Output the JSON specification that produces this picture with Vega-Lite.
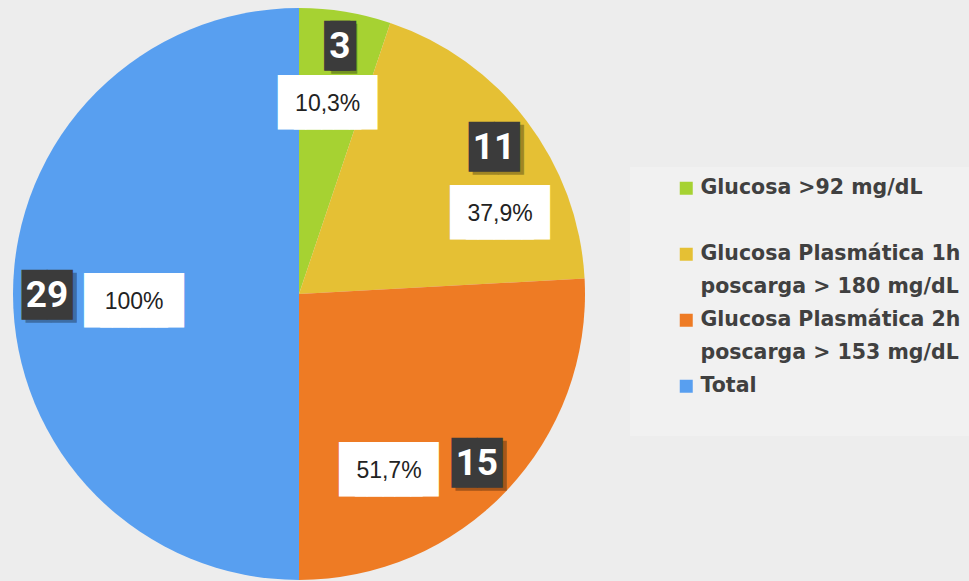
{
  "$schema": "https://vega.github.io/schema/vega-lite/v6.json",
  "width": 598,
  "height": 572,
  "autosize": {"type": "none"},
  "padding": {"left": 0, "top": 8, "right": 371, "bottom": 1},
  "background": "#ededed",
  "view": {"stroke": null},
  "config": {"style": {"guide-label": {"lineHeight": 33}}},
  "data": {
    "values": [
      {"categoria": "Glucosa >92 mg/dL", "n": 3, "pct": "10,3%", "orden": 1},
      {"categoria": "Glucosa Plasmática 1h poscarga > 180 mg/dL", "n": 11, "pct": "37,9%", "orden": 2},
      {"categoria": "Glucosa Plasmática 2h poscarga > 153 mg/dL", "n": 15, "pct": "51,7%", "orden": 3},
      {"categoria": "Total", "n": 29, "pct": "100%", "orden": 4}
    ]
  },
  "encoding": {
    "theta": {"field": "n", "type": "quantitative", "stack": true},
    "order": {"field": "orden", "type": "quantitative"}
  },
  "layer": [
    {
      "mark": {"type": "arc", "outerRadius": 286},
      "encoding": {
        "color": {
          "field": "categoria",
          "type": "nominal",
          "scale": {
            "domain": ["Glucosa >92 mg/dL", "Glucosa Plasmática 1h poscarga > 180 mg/dL", "Glucosa Plasmática 2h poscarga > 153 mg/dL", "Total"],
            "range": ["#a6d232", "#e5c034", "#ee7b24", "#589ff0"]
          },
          "legend": {
            "title": " ",
            "titleOrient": "bottom",
            "titleFontSize": 20,
            "titlePadding": 8,
            "orient": "none",
            "legendX": 630,
            "legendY": 159,
            "padding": 11,
            "fillColor": "#f1f1f1",
            "symbolType": "square",
            "symbolSize": 169,
            "symbolStrokeWidth": 0,
            "symbolOffset": 35,
            "labelOffset": 4,
            "labelFont": "DejaVu Sans",
            "labelFontWeight": "bold",
            "labelFontSize": 20.5,
            "labelColor": "#404040",
            "labelLimit": 400,
            "rowPadding": 12,
            "labelExpr": "datum.label == 'Glucosa >92 mg/dL' ? [datum.label, ''] : split(replace(datum.label, ' poscarga', '|poscarga'), '|')"
          }
        }
      }
    },
    {
      "mark": {"type": "text", "radius": {"expr": "datum.orden == 1 || datum.orden == 4 ? 252 : 245"}, "font": "DejaVu Sans Mono", "fontSize": 42, "align": "center", "baseline": "middle", "dx": 4, "dy": 5, "fill": "#000000", "opacity": 0.3},
      "encoding": {"text": {"condition": {"test": "datum.orden != 1", "value": "██"}, "value": "█"}}
    },
    {
      "mark": {"type": "text", "radius": {"expr": "datum.orden == 1 || datum.orden == 4 ? 252 : 245"}, "font": "DejaVu Sans Mono", "fontSize": 42, "align": "center", "baseline": "middle", "dy": 2, "fill": "#3b3b3b"},
      "encoding": {"text": {"condition": {"test": "datum.orden != 1", "value": "██"}, "value": ""}}
    },
    {
      "mark": {"type": "text", "radius": {"expr": "datum.orden == 1 || datum.orden == 4 ? 252 : 245"}, "font": "DejaVu Sans Mono", "fontSize": 42, "align": "center", "baseline": "middle", "dx": -3, "dy": 2, "fill": "#3b3b3b"},
      "encoding": {"text": {"condition": {"test": "datum.orden == 1", "value": "█"}, "value": ""}}
    },
    {
      "mark": {"type": "text", "radius": {"expr": "datum.orden == 1 || datum.orden == 4 ? 252 : 245"}, "font": "DejaVu Sans Mono", "fontSize": 42, "align": "center", "baseline": "middle", "dx": 3, "dy": 2, "fill": "#3b3b3b"},
      "encoding": {"text": {"condition": {"test": "datum.orden == 1", "value": "█"}, "value": ""}}
    },
    {
      "mark": {"type": "text", "radius": {"expr": "datum.orden == 1 || datum.orden == 4 ? 252 : 245"}, "font": "Roboto", "fontWeight": "bold", "fontSize": 37, "align": "center", "baseline": "middle", "dy": 2, "fill": "#ffffff"},
      "encoding": {"text": {"field": "n", "type": "nominal"}}
    },
    {
      "mark": {"type": "text", "radius": {"expr": "datum.orden == 1 ? 194 : datum.orden == 2 ? 217 : datum.orden == 3 ? 197 : 165"}, "thetaOffset": {"expr": "datum.orden == 1 ? -0.014 : datum.orden == 2 ? 0.264 : datum.orden == 3 ? 0.338 : -0.036"}, "font": "DejaVu Sans Mono", "fontSize": 46, "align": "center", "baseline": "middle", "dx": -8, "dy": 2, "fill": "#ffffff"},
      "encoding": {"text": {"value": "███"}}
    },
    {
      "mark": {"type": "text", "radius": {"expr": "datum.orden == 1 ? 194 : datum.orden == 2 ? 217 : datum.orden == 3 ? 197 : 165"}, "thetaOffset": {"expr": "datum.orden == 1 ? -0.014 : datum.orden == 2 ? 0.264 : datum.orden == 3 ? 0.338 : -0.036"}, "font": "DejaVu Sans Mono", "fontSize": 46, "align": "center", "baseline": "middle", "dx": 8, "dy": 2, "fill": "#ffffff"},
      "encoding": {"text": {"value": "███"}}
    },
    {
      "mark": {"type": "text", "radius": {"expr": "datum.orden == 1 ? 194 : datum.orden == 2 ? 217 : datum.orden == 3 ? 197 : 165"}, "thetaOffset": {"expr": "datum.orden == 1 ? -0.014 : datum.orden == 2 ? 0.264 : datum.orden == 3 ? 0.338 : -0.036"}, "font": "Liberation Sans", "fontSize": 23, "align": "center", "baseline": "middle", "dy": 2, "fill": "#222222"},
      "encoding": {"text": {"field": "pct", "type": "nominal"}}
    }
  ]
}
